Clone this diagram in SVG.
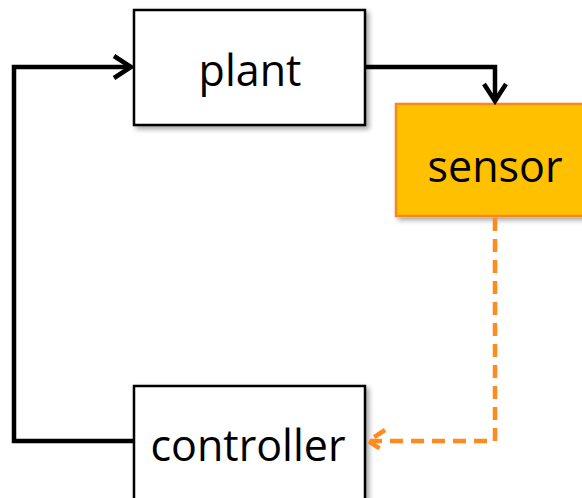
<svg xmlns="http://www.w3.org/2000/svg" width="582" height="498" viewBox="0 0 582 498">
<style>
.box{fill:#fff;stroke:#000;stroke-width:2.5;filter:url(#sh)}
.sensor{fill:#FFC000;stroke:#F7891F;stroke-width:2.5;filter:url(#sh)}
.lbl{font-family:"Open Sans","Liberation Sans",sans-serif;font-size:43px;fill:#000;text-anchor:middle}
.wire{fill:none;stroke:#000;stroke-width:4.5}
.dash{fill:none;stroke:#FF8A1F;stroke-width:4.5;stroke-dasharray:13 8}
</style>
<defs>
<filter id="sh" x="-10%" y="-10%" width="130%" height="130%">
<feDropShadow dx="3" dy="3" stdDeviation="2.5" flood-color="#000" flood-opacity="0.35"/>
</filter>
</defs>
<g id="plant">
<rect class="box" x="134" y="10" width="231" height="115"/>
<text class="lbl" x="250" y="86">plant</text>
</g>
<g id="sensor">
<rect class="sensor" x="396" y="104" width="200" height="112"/>
<text class="lbl" x="495" y="182">sensor</text>
</g>
<g id="controller">
<rect class="box" x="134" y="386" width="231" height="130"/>
<text class="lbl" x="248" y="461">controller</text>
</g>
<g id="connectors">
<path class="wire" d="M365 67 H495 V101"/>
<path class="wire" d="M484 84 L495 101 L506 84" stroke-linejoin="miter"/>
<path class="wire" d="M134 441 H14 V67 H131"/>
<path class="wire" d="M114 56 L131 67 L114 78"/>
<path class="dash" d="M495 218 V441 H370"/>
<path class="dash" d="M385 430 L368 441 L385 452" stroke-dasharray="none"/>
</g>
</svg>
